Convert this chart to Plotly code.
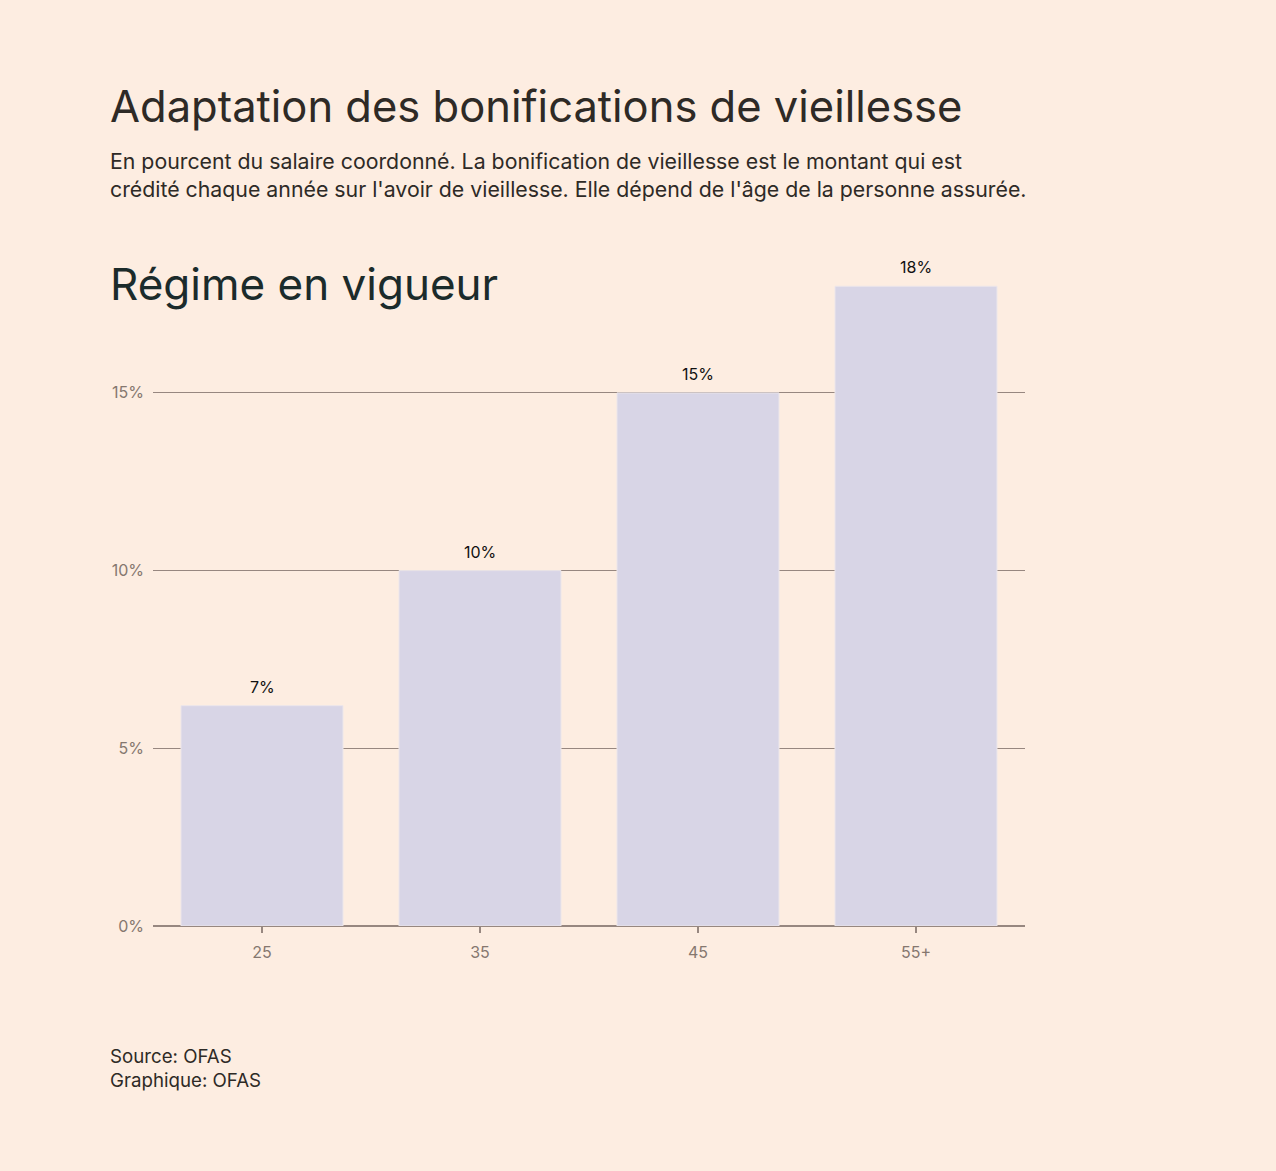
import plotly.graph_objects as go

categories = ["25", "35", "45", "55+"]
values = [6.2, 10, 15, 18]
value_labels = ["7%", "10%", "15%", "18%"]
tick_vals = [0, 5, 10, 15]
tick_text = ["0%", "5%", "10%", "15%"]

BG = "#fdede1"
BAR = "#d8d5e6"
GRID = "#978780"
FONT = "Inter"

W, H = 1276, 1171
L, R, T, B = 153, 251, 250, 245
pw, ph = W - L - R, H - T - B

def px(x):
    return (x - L) / pw

def py(y):
    return (H - B - y) / ph

fig = go.Figure()
fig.add_trace(go.Bar(
    x=categories, y=values,
    marker=dict(color=BAR, line=dict(color="#ece6ea", width=1)),
    hoverinfo="skip",
))

annotations = []
for i, (v, t) in enumerate(zip(values, value_labels)):
    annotations.append(dict(x=i, y=v, xref="x", yref="y", text=t, showarrow=False,
                            yanchor="bottom", yshift=7,
                            font=dict(family=FONT, size=16, color="#111111")))

annotations += [
    dict(x=px(108), y=py(106), xref="paper", yref="paper", xanchor="left", yanchor="middle",
         text="Adaptation des bonifications de vieillesse", showarrow=False,
         font=dict(family=FONT, size=43.5, color="#2e2a26")),
    dict(x=px(108), y=py(175), xref="paper", yref="paper", xanchor="left", yanchor="middle",
         text="En pourcent du salaire coordonné. La bonification de vieillesse est le montant qui est<br>"
              "crédité chaque année sur l'avoir de vieillesse. Elle dépend de l'âge de la personne assurée.",
         showarrow=False, align="left",
         font=dict(family=FONT, size=21.3, color="#2e2a26")),
    dict(x=px(108), y=py(284), xref="paper", yref="paper", xanchor="left", yanchor="middle",
         text="Régime en vigueur", showarrow=False,
         font=dict(family=FONT, size=44, color="#1b2b2b")),
    dict(x=px(108), y=py(1068), xref="paper", yref="paper", xanchor="left", yanchor="middle",
         text="Source: OFAS<br>Graphique: OFAS", showarrow=False, align="left",
         font=dict(family=FONT, size=18.7, color="#2e2a26")),
]

fig.update_layout(
    width=W, height=H,
    margin=dict(l=L, r=R, t=T, b=B, pad=0),
    paper_bgcolor=BG, plot_bgcolor=BG,
    showlegend=False,
    bargap=0.257,
    annotations=annotations,
    xaxis=dict(
        range=[-0.5, 3.5], showgrid=False, zeroline=False,
        showline=False,
        ticks="outside", ticklen=6, tickcolor=GRID, tickwidth=1.5,
        ticklabelstandoff=6,
        tickfont=dict(family=FONT, size=16, color="#85776f"),
        fixedrange=True,
    ),
    yaxis=dict(
        range=[0, 19.02], tickvals=tick_vals, ticktext=tick_text,
        showgrid=True, gridcolor=GRID, gridwidth=1.2,
        zeroline=True, zerolinecolor=GRID, zerolinewidth=1.5,
        showline=False, ticks="", ticklabelstandoff=8,
        tickfont=dict(family=FONT, size=16, color="#85776f"),
        fixedrange=True,
    ),
)

fig.write_html(
    "out.html",
    config={"displayModeBar": False},
    post_script="document.body.style.margin='0';document.body.style.background='" + BG + "';",
)
